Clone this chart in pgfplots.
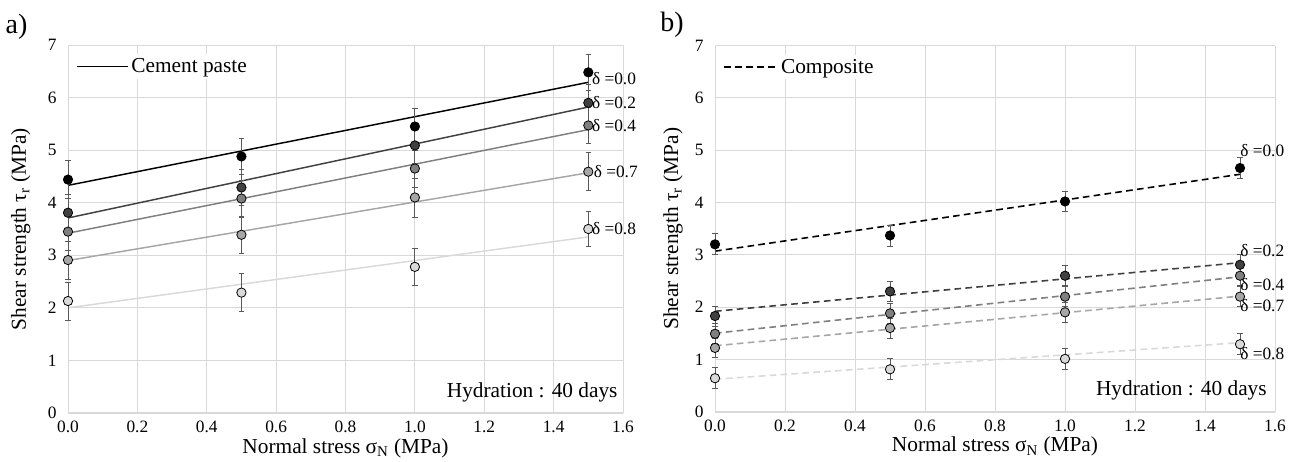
\documentclass[border=0pt]{standalone}
\usepackage{fontspec}
\setmainfont{Liberation Serif}
\usepackage{pgfplots}
\usepackage{pgfplotstable}
\pgfplotsset{compat=1.18}
\definecolor{c0}{HTML}{000000}
\definecolor{c2}{HTML}{404040}
\definecolor{c4}{HTML}{7F7F7F}
\definecolor{c7}{HTML}{A6A6A6}
\definecolor{c8}{HTML}{D9D9D9}
\definecolor{gridc}{HTML}{D9D9D9}
\definecolor{errc}{HTML}{595959}

% Panel a) cement paste: x, y, error
\pgfplotstableread{
x y e
0.0 4.44 0.36
0.5 4.88 0.35
1.0 5.45 0.35
1.5 6.48 0.34
}\aZero
\pgfplotstableread{
x y e
0.0 3.81 0.35
0.5 4.29 0.35
1.0 5.09 0.35
1.5 5.90 0.35
}\aTwo
\pgfplotstableread{
x y e
0.0 3.45 0.35
0.5 4.08 0.35
1.0 4.65 0.35
1.5 5.47 0.35
}\aFour
\pgfplotstableread{
x y e
0.0 2.91 0.36
0.5 3.39 0.35
1.0 4.10 0.37
1.5 4.59 0.36
}\aSeven
\pgfplotstableread{
x y e
0.0 2.13 0.36
0.5 2.29 0.36
1.0 2.78 0.36
1.5 3.50 0.33
}\aEight

% Panel b) composite
\pgfplotstableread{
x y e
0.0 3.20 0.20
0.5 3.37 0.20
1.0 4.02 0.19
1.5 4.66 0.20
}\bZero
\pgfplotstableread{
x y e
0.0 1.83 0.19
0.5 2.30 0.19
1.0 2.60 0.19
1.5 2.81 0.19
}\bTwo
\pgfplotstableread{
x y e
0.0 1.49 0.19
0.5 1.88 0.19
1.0 2.20 0.19
1.5 2.60 0.19
}\bFour
\pgfplotstableread{
x y e
0.0 1.22 0.19
0.5 1.60 0.19
1.0 1.90 0.19
1.5 2.20 0.19
}\bSeven
\pgfplotstableread{
x y e
0.0 0.64 0.20
0.5 0.81 0.20
1.0 1.01 0.20
1.5 1.29 0.20
}\bEight

\tikzset{dlab/.style={anchor=west, font=\fontsize{13}{13}\selectfont, inner sep=0pt}}
\pgfplotsset{
  panel/.style={
    scale only axis,
    xmin=0, xmax=1.6, ymin=0, ymax=7,
    xtick={0,0.2,0.4,0.6,0.8,1.0,1.2,1.4,1.6},
    ytick={0,1,2,3,4,5,6,7},
    grid=major,
    major grid style={draw=gridc, line width=0.7pt},
    axis lines*=left,
    axis line style={-, draw=gridc, line width=0.7pt},
    x axis line style={line width=1.3pt},
    major tick length=0pt,
    /pgf/number format/assume math mode=true,
    ticklabel style={font=\fontsize{13}{13}\selectfont},
    xticklabel style={yshift=-2.5pt, /pgf/number format/.cd, fixed, fixed zerofill, precision=1},
    yticklabel style={xshift=-5pt},
    xlabel={Normal stress σ\textsubscript{N} (MPa)},
    ylabel={Shear strength τ\textsubscript{r} (MPa)},
    every axis x label/.style={at={(rel axis cs:0.5,-0.096)}, anchor=center,
      font=\fontsize{16}{16}\selectfont},
    clip=false,
    legend cell align=left,
    legend style={draw=none, fill=white, font=\fontsize{16}{16}\selectfont,
      inner sep=1pt, at={(rel axis cs:0.012,0.975)}, anchor=north west},
  },
  pts/.style={forget plot, only marks, mark=*, mark size=3.5pt,
    mark options={fill=#1, draw=black, line width=0.6pt},
    error bars/.cd, y dir=both, y explicit,
    error bar style={line width=0.6pt, draw=errc},
    error mark options={rotate=90, mark size=2pt, line width=0.6pt, draw=errc}},
  fitline/.style={forget plot, no marks, line width=1.1pt, draw=#1},
  dfit/.style={forget plot, no marks, line width=1.2pt, draw=#1, dash pattern=on 5pt off 3.2pt},
}

\begin{document}
\begin{tikzpicture}
% ---------- a) ----------
\begin{axis}[panel, at={(51pt,36pt)}, anchor=south west,
  width=416.25pt, height=276pt,
  every axis y label/.style={at={(rel axis cs:-0.085,0.5)}, rotate=90, anchor=center,
    font=\fontsize{16}{16}\selectfont},
  legend image code/.code={\draw[#1] (0pt,0pt) -- (38pt,0pt);}]
\addlegendimage{black, line width=1.3pt}
\addlegendentry{Cement paste}
\addplot[fitline=c0] coordinates {(0,4.33) (1.5,6.29)};
\addplot[fitline=c2] coordinates {(0,3.71) (1.5,5.82)};
\addplot[fitline=c4] coordinates {(0,3.42) (1.5,5.39)};
\addplot[fitline=c7] coordinates {(0,2.90) (1.5,4.57)};
\addplot[fitline=c8] coordinates {(0,2.00) (1.5,3.35)};
\addplot[pts=c8] table[x=x, y=y, y error=e] {\aEight};
\addplot[pts=c7] table[x=x, y=y, y error=e] {\aSeven};
\addplot[pts=c4] table[x=x, y=y, y error=e] {\aFour};
\addplot[pts=c2] table[x=x, y=y, y error=e] {\aTwo};
\addplot[pts=c0] table[x=x, y=y, y error=e] {\aZero};
\node[dlab] at (axis cs:1.51,6.36) {δ =0.0};
\node[dlab] at (axis cs:1.51,5.90) {δ =0.2};
\node[dlab] at (axis cs:1.51,5.47) {δ =0.4};
\node[dlab] at (axis cs:1.515,4.60) {δ =0.7};
\node[dlab] at (axis cs:1.51,3.50) {δ =0.8};
\node[anchor=east, font=\fontsize{16}{16}\selectfont, inner sep=0pt] at (axis cs:1.585,0.40) {Hydration : 40 days};
\end{axis}
% ---------- b) ----------
\begin{axis}[panel, at={(536.25pt,37pt)}, anchor=south west,
  width=420pt, height=274.5pt,
  every axis y label/.style={at={(rel axis cs:-0.075,0.5)}, rotate=90, anchor=center,
    font=\fontsize{16}{16}\selectfont},
  legend image code/.code={\draw[#1] (0pt,0pt) -- (40pt,0pt);}]
\addlegendimage{black, line width=1.3pt, dash pattern=on 5pt off 3.2pt}
\addlegendentry{Composite}
\addplot[dfit=c0] coordinates {(0,3.07) (1.5,4.54)};
\addplot[dfit=c2] coordinates {(0,1.92) (1.5,2.85)};
\addplot[dfit=c4] coordinates {(0,1.50) (1.5,2.58)};
\addplot[dfit=c7] coordinates {(0,1.26) (1.5,2.21)};
\addplot[dfit=c8] coordinates {(0,0.62) (1.5,1.32)};
\addplot[pts=c8] table[x=x, y=y, y error=e] {\bEight};
\addplot[pts=c7] table[x=x, y=y, y error=e] {\bSeven};
\addplot[pts=c4] table[x=x, y=y, y error=e] {\bFour};
\addplot[pts=c2] table[x=x, y=y, y error=e] {\bTwo};
\addplot[pts=c0] table[x=x, y=y, y error=e] {\bZero};
\node[dlab] at (axis cs:1.50,4.99) {δ =0.0};
\node[dlab] at (axis cs:1.50,3.09) {δ =0.2};
\node[dlab] at (axis cs:1.50,2.44) {δ =0.4};
\node[dlab] at (axis cs:1.50,2.02) {δ =0.7};
\node[dlab] at (axis cs:1.50,1.12) {δ =0.8};
\node[anchor=east, font=\fontsize{16}{16}\selectfont, inner sep=0pt] at (axis cs:1.577,0.40) {Hydration : 40 days};
\end{axis}
\node[anchor=west, font=\fontsize{21}{21}\selectfont, inner sep=0pt] at (4pt,326pt) {a)};
\node[anchor=west, font=\fontsize{21}{21}\selectfont, inner sep=0pt] at (495pt,327pt) {b)};
\pgfresetboundingbox
\path[use as bounding box] (0,0) rectangle (971.25pt,345.75pt);
\end{tikzpicture}
\end{document}
